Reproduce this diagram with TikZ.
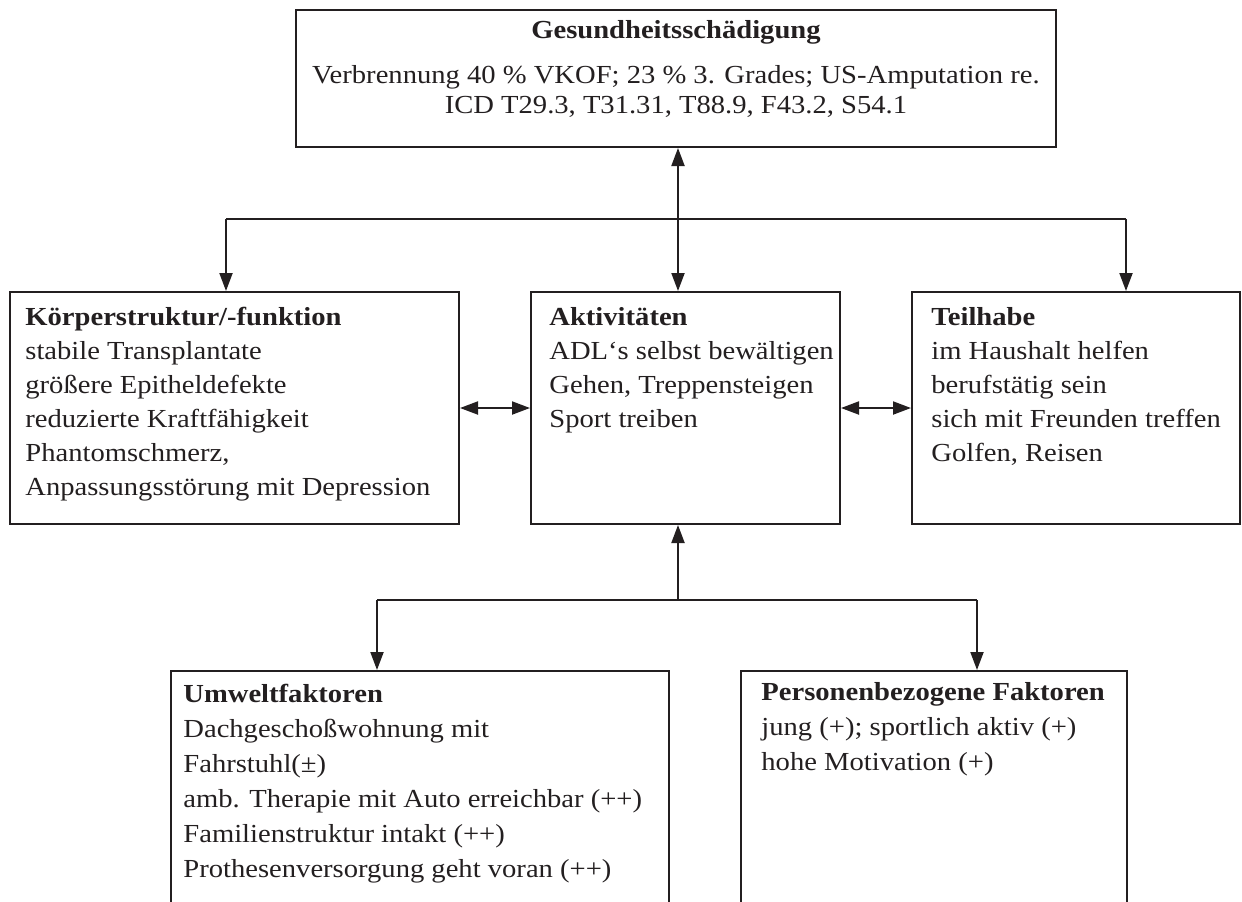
\documentclass[tikz,border=0pt]{standalone}
\usepackage{fontspec}
\setmainfont{Liberation Serif}[FakeStretch=1.1]
\usetikzlibrary{arrows.meta}

\definecolor{ink}{HTML}{231F20}

\tikzset{
  box/.style={draw=ink, line width=1pt, inner sep=0pt},
  txt/.style={anchor=north west, inner sep=0pt, align=left, text=ink,
    font=\fontsize{13}{17.5}\selectfont},
  arr/.style={draw=ink, line width=1pt, -{Triangle[length=9pt,width=6.5pt]}},
  dbl/.style={draw=ink, line width=1pt,
    {Triangle[length=9pt,width=6.5pt]}-{Triangle[length=9pt,width=6.5pt]}},
  bar/.style={draw=ink, line width=1pt}
}

\begin{document}
\begin{tikzpicture}[x=0.5pt, y=-0.5pt]
\path[use as bounding box, clip] (0,0) rectangle (1242,901);

% boxes
\node[box, minimum width=380pt, minimum height=68.5pt] (gesund) at (676,78.5) {};
\node[box, minimum width=224.5pt, minimum height=116pt] (koerper) at (234.5,408) {};
\node[box, minimum width=154.5pt, minimum height=116pt] (aktiv) at (685.5,408) {};
\node[box, minimum width=164pt, minimum height=116pt] (teilhabe) at (1076,408) {};
\node[box, minimum width=249pt, minimum height=144.5pt] (umwelt) at (420,815.5) {};
\node[box, minimum width=193pt, minimum height=144.5pt] (person) at (934,815.5) {};

% texts
\node[txt, anchor=north, align=center, font=\fontsize{13}{15}\selectfont]
  (gesund-txt) at (676,17) {\strut\textbf{Gesundheitsschädigung}\\[7.5pt]
  Verbrennung 40 \% VKOF; 23 \% 3. Grades; US-Amputation re.\\
  ICD T29.3, T31.31, T88.9, F43.2, S54.1};
\node[txt, font=\fontsize{13}{17}\selectfont] (koerper-txt) at (25,301.2)
  {\strut\textbf{Körperstruktur/-funktion}\\
  stabile Transplantate\\
  größere Epitheldefekte\\
  reduzierte Kraftfähigkeit\\
  Phantomschmerz,\\
  Anpassungsstörung mit Depression};
\node[txt, font=\fontsize{13}{17}\selectfont] (aktiv-txt) at (549,301.2)
  {\strut\textbf{Aktivitäten}\\
  ADL‘s selbst bewältigen\\
  Gehen, Treppensteigen\\
  Sport treiben};
\node[txt, font=\fontsize{13}{17}\selectfont] (teilhabe-txt) at (931,301.2)
  {\strut\textbf{Teilhabe}\\
  im Haushalt helfen\\
  berufstätig sein\\
  sich mit Freunden treffen\\
  Golfen, Reisen};
\node[txt] (umwelt-txt) at (183,677.5) {\strut\textbf{Umweltfaktoren}\\
  Dachgeschoßwohnung mit\\
  Fahrstuhl(±)\\
  amb. Therapie mit Auto erreichbar (++)\\
  Familienstruktur intakt (++)\\
  Prothesenversorgung geht voran (++)};
\node[txt] (person-txt) at (761,675.5) {\strut\textbf{Personenbezogene Faktoren}\\
  jung (+); sportlich aktiv (+)\\
  hohe Motivation (+)};

% connectors
\coordinate (hub) at (678,219);
\coordinate (kk) at (226,219);
\coordinate (tt) at (1126,219);
\draw[dbl] (hub |- gesund.south) -- (hub |- aktiv.north);
\draw[bar] (kk) -- (tt);
\draw[arr] (kk) -- (kk |- koerper.north);
\draw[arr] (tt) -- (tt |- teilhabe.north);

\draw[dbl] (koerper.east) -- (aktiv.west);
\draw[dbl] (aktiv.east) -- (teilhabe.west);

\coordinate (fork) at (678,600);
\coordinate (uu) at (377,600);
\coordinate (pp) at (977,600);
\draw[arr] (fork) -- (fork |- aktiv.south);
\draw[bar] (uu) -- (pp);
\draw[arr] (uu) -- (uu |- umwelt.north);
\draw[arr] (pp) -- (pp |- person.north);
\end{tikzpicture}
\end{document}
